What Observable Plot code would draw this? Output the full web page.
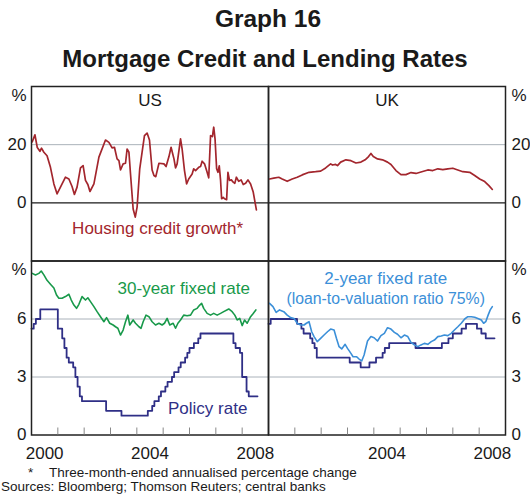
<!DOCTYPE html>
<html><head><meta charset="utf-8">
<script src="https://cdn.jsdelivr.net/npm/d3@7"></script>
<script src="https://cdn.jsdelivr.net/npm/@observablehq/plot@0.6"></script>
<style>
body{margin:0;background:#fff;}
#wrap{position:relative;width:530px;height:494px;overflow:hidden;font-family:"Liberation Sans",Arial,sans-serif;color:#1a1a1a;background:#fff;}
.t{position:absolute;left:0;width:530px;text-align:center;font-weight:bold;line-height:1;white-space:nowrap;}
.f{position:absolute;font-size:13.5px;line-height:1;white-space:nowrap;}
.p{position:absolute;left:0;}
</style></head><body>
<div id="wrap">
<div class="t" style="top:7.3px;font-size:24.5px;padding-left:3px;">Graph 16</div>
<div class="t" style="top:46.7px;font-size:24px;">Mortgage Credit and Lending Rates</div>
<div class="f" style="left:28px;top:465.5px;">*</div>
<div class="f" style="left:49px;top:465.5px;">Three-month-ended annualised percentage change</div>
<div class="f" style="left:1px;top:479.8px;">Sources: Bloomberg; Thomson Reuters; central banks</div>
</div>
<script>
// ---------- data ----------
const panelNames = ["US", "UK"];
const yearLabelsLeft = [2000, 2004, 2008];
const yearLabelsRight = [2004, 2008];
const yearTicks = [2001, 2002, 2003, 2004, 2005, 2006, 2007, 2008];
const creditTicks = [0, 20];
const rateTicks = [0, 3, 6];

// Housing credit growth, % (decimal year, value)
const usHousing = [
 [2000.03,21],[2000.13,23.4],[2000.22,19],[2000.32,17.7],[2000.38,18.8],[2000.47,17.4],[2000.59,16.2],
 [2000.72,12.2],[2000.85,6.5],[2000.97,3.1],[2001.10,5.4],[2001.29,8.8],[2001.42,8.2],[2001.54,5.6],
 [2001.63,2.9],[2001.73,5.4],[2001.86,12],[2001.96,12.8],[2002.05,7.7],[2002.14,6.3],[2002.22,3.9],
 [2002.37,6.5],[2002.56,15.7],[2002.81,21.6],[2002.94,20.8],[2003.06,18.9],[2003.15,19.1],[2003.25,15.1],
 [2003.32,14.5],[2003.38,11.3],[2003.48,13.4],[2003.57,13.6],[2003.63,18.5],[2003.70,17.4],[2003.76,9.9],
 [2003.86,-2.1],[2003.94,-4.9],[2004.01,-1.5],[2004.11,11.7],[2004.20,17.4],[2004.29,23.1],[2004.39,24],
 [2004.48,21.6],[2004.58,11.3],[2004.65,9.4],[2004.72,9],[2004.84,13.6],[2005.03,13.4],[2005.11,12.5],
 [2005.22,15.9],[2005.30,19.1],[2005.41,15.1],[2005.47,12],[2005.53,13.4],[2005.66,22],[2005.72,18.5],
 [2005.81,11.1],[2005.89,6.5],[2005.97,8.2],[2006.10,9.9],[2006.16,11.7],[2006.23,11.1],[2006.35,12.2],
 [2006.42,12.5],[2006.48,14.3],[2006.57,13.4],[2006.67,10.5],[2006.73,8.6],[2006.80,23.1],[2006.87,22.8],
 [2006.92,26],[2006.97,22],[2007.03,11.7],[2007.08,10.5],[2007.13,12.7],[2007.18,7.7],[2007.22,1.4],
 [2007.28,1.9],[2007.33,1.4],[2007.41,1.1],[2007.46,10.5],[2007.52,7.7],[2007.59,7.9],[2007.66,7.1],
 [2007.72,6.7],[2007.78,8.8],[2007.87,7.4],[2007.96,7.9],[2008.04,6.3],[2008.13,6.7],[2008.22,7.9],
 [2008.32,6.5],[2008.42,3.7],[2008.54,-2.4]
];
const ukHousing = [
 [2000.04,8.2],[2000.20,8.5],[2000.39,8.8],[2000.52,8.2],[2000.71,7.4],[2000.90,8.2],[2001.09,8.8],
 [2001.28,9.6],[2001.54,10.5],[2001.79,10.7],[2001.98,10.9],[2002.17,12],[2002.36,13.4],[2002.43,13],
 [2002.55,13.2],[2002.62,12.8],[2002.74,14],[2002.94,14.8],[2003.13,14.5],[2003.32,13.7],[2003.51,14],
 [2003.67,14.8],[2003.80,15.9],[2003.89,17],[2003.98,15.9],[2004.14,15.1],[2004.33,14.8],[2004.52,14],
 [2004.65,13.2],[2004.84,11.1],[2005.03,9.7],[2005.22,9.7],[2005.41,10.4],[2005.60,10.1],[2005.79,10.6],
 [2006.05,11.3],[2006.24,11.1],[2006.43,11.7],[2006.62,11.4],[2006.81,11.7],[2007.00,11.9],[2007.19,11.3],
 [2007.38,10.7],[2007.64,10.5],[2007.83,9.4],[2008.02,8.2],[2008.21,7.3],[2008.37,5.9],[2008.50,4.6]
];
// US 30-year fixed mortgage rate, %
const us30yr = [
 [2000.03,8.36],[2000.15,8.28],[2000.28,8.36],[2000.37,8.48],[2000.47,8.28],[2000.59,8.0],[2000.72,7.8],
 [2000.85,7.6],[2000.95,7.24],[2001.04,7.07],[2001.16,7.07],[2001.29,7.16],[2001.42,7.28],[2001.51,6.98],
 [2001.61,6.72],[2001.71,6.55],[2001.80,6.76],[2001.92,7.16],[2002.05,6.98],[2002.14,7.1],[2002.24,6.9],
 [2002.37,6.64],[2002.49,6.38],[2002.62,6.12],[2002.75,5.86],[2002.85,6.07],[2002.97,5.78],[2003.10,5.69],
 [2003.19,5.6],[2003.28,5.52],[2003.38,5.17],[2003.48,5.43],[2003.57,5.86],[2003.66,6.2],[2003.73,5.69],
 [2003.86,5.95],[2003.95,5.78],[2004.08,5.6],[2004.16,5.52],[2004.24,5.86],[2004.35,6.2],[2004.46,6.12],
 [2004.58,5.86],[2004.71,5.69],[2004.84,5.78],[2004.96,5.69],[2005.05,5.78],[2005.15,6.03],[2005.25,5.69],
 [2005.38,5.78],[2005.47,5.52],[2005.56,5.78],[2005.66,5.95],[2005.78,6.2],[2005.91,6.17],[2006.04,6.2],
 [2006.16,6.47],[2006.29,6.55],[2006.39,6.72],[2006.46,6.81],[2006.54,6.55],[2006.67,6.29],[2006.80,6.2],
 [2006.92,6.29],[2007.05,6.2],[2007.18,6.29],[2007.30,6.38],[2007.49,6.52],[2007.62,6.38],[2007.72,6.2],
 [2007.81,5.95],[2007.91,6.03],[2008.00,5.66],[2008.09,5.95],[2008.19,5.78],[2008.32,6.12],[2008.42,6.29],
 [2008.52,6.47]
];
// UK 2-year fixed rate (LVR 75%), %
const uk2yr = [
 [2000.04,6.81],[2000.17,6.64],[2000.29,6.34],[2000.42,6.47],[2000.58,6.38],[2000.71,6.2],[2000.84,6.07],
 [2000.97,6.03],[2001.09,5.78],[2001.22,5.69],[2001.35,5.69],[2001.44,5.78],[2001.54,5.86],[2001.64,5.34],
 [2001.73,5.09],[2001.85,4.83],[2001.98,5.0],[2002.11,5.17],[2002.24,5.34],[2002.36,5.48],[2002.49,5.43],
 [2002.58,5.0],[2002.68,4.57],[2002.78,4.45],[2002.91,4.69],[2003.00,4.48],[2003.13,4.22],[2003.21,4.05],
 [2003.34,4.05],[2003.44,3.93],[2003.54,3.83],[2003.63,4.14],[2003.76,4.86],[2003.89,5.09],[2004.01,5.03],
 [2004.14,4.86],[2004.27,5.14],[2004.40,5.26],[2004.52,5.55],[2004.65,5.48],[2004.78,5.31],[2004.90,5.21],
 [2005.03,5.03],[2005.16,5.17],[2005.29,5.09],[2005.41,4.79],[2005.54,4.66],[2005.67,4.57],[2005.79,4.66],
 [2005.92,4.74],[2006.05,4.69],[2006.18,4.83],[2006.30,4.91],[2006.43,5.09],[2006.56,5.12],[2006.68,5.17],
 [2006.81,5.14],[2006.94,5.26],[2007.06,5.43],[2007.19,5.6],[2007.32,5.78],[2007.45,6.0],[2007.57,6.12],
 [2007.70,6.12],[2007.83,6.09],[2007.95,6.03],[2008.08,5.95],[2008.17,5.78],[2008.25,5.86],[2008.34,6.2],
 [2008.42,6.47],[2008.50,6.64]
];
// Policy rates, monthly from January 2000, %
const usPolicy = [
 5.5,5.75,6.0,6.0,6.5,6.5,6.5,6.5,6.5,6.5,6.5,6.5,
 5.5,5.5,5.0,4.5,4.0,3.75,3.75,3.5,3.0,2.5,2.0,1.75,
 1.75,1.75,1.75,1.75,1.75,1.75,1.75,1.75,1.75,1.75,1.25,1.25,
 1.25,1.25,1.25,1.25,1.25,1.0,1.0,1.0,1.0,1.0,1.0,1.0,
 1.0,1.0,1.0,1.0,1.0,1.25,1.25,1.5,1.75,1.75,2.0,2.25,
 2.25,2.5,2.75,2.75,3.0,3.25,3.25,3.5,3.75,3.75,4.0,4.25,
 4.5,4.5,4.75,4.75,5.0,5.25,5.25,5.25,5.25,5.25,5.25,5.25,
 5.25,5.25,5.25,5.25,5.25,5.25,5.25,5.25,4.75,4.5,4.5,4.25,
 3.0,3.0,2.25,2.0,2.0,2.0,2.0,2.0
];
const ukPolicy = [
 5.75,6.0,6.0,6.0,6.0,6.0,6.0,6.0,6.0,6.0,6.0,6.0,
 6.0,5.75,5.75,5.5,5.25,5.25,5.25,5.0,4.75,4.5,4.0,4.0,
 4.0,4.0,4.0,4.0,4.0,4.0,4.0,4.0,4.0,4.0,4.0,4.0,
 4.0,3.75,3.75,3.75,3.75,3.75,3.5,3.5,3.5,3.5,3.75,3.75,
 3.75,4.0,4.0,4.0,4.25,4.5,4.5,4.75,4.75,4.75,4.75,4.75,
 4.75,4.75,4.75,4.75,4.75,4.75,4.75,4.5,4.5,4.5,4.5,4.5,
 4.5,4.5,4.5,4.5,4.5,4.5,4.5,4.75,4.75,4.75,5.0,5.0,
 5.25,5.25,5.25,5.25,5.5,5.5,5.75,5.75,5.75,5.75,5.75,5.5,
 5.5,5.25,5.25,5.0,5.0,5.0,5.0,5.0
];

// ---------- styles ----------
const RED = "#a3262d", GREEN = "#18994a", NAVY = "#2f2f86", BLUE = "#3b8fd8";
const GRID = "#aab2ba", FRAME = "#222";
const FONT = '"Liberation Sans", Arial, sans-serif';
const xDomain = [2000, 2009];
const style = {background: "transparent", overflow: "visible", fontFamily: FONT, fontSize: "17px", color: "#1a1a1a"};
const monthX = (d, i) => 2000 + i / 12;
const wrap = document.getElementById("wrap");

function place(svg, top) {
  svg.classList.add("p");
  svg.style.position = "absolute";
  svg.style.left = "0px";
  svg.style.top = top + "px";
  wrap.appendChild(svg);
}

const topRow = {width: 530, height: 185, marginTop: 6, marginBottom: 4.5, style,
  x: {domain: xDomain, axis: null}, y: {domain: [-20, 40]}};
const botRow = {width: 530, height: 210, marginTop: 5.5, marginBottom: 30.5, style,
  x: {domain: xDomain}, y: {domain: [0, 9]}};
const left = {marginLeft: 31, marginRight: 262};
const right = {marginLeft: 268, marginRight: 25};

function yAxes(anchor, ticks, top) {
  const pad = anchor === "left" ? 5 : 6;
  return [
    Plot.axisY({anchor, ticks, tickSize: 0, tickPadding: pad}),
    Plot.axisY({anchor, ticks: [top], tickSize: 0, tickPadding: pad, tickFormat: () => "%", dy: 9})
  ];
}
function xAxes(labels) {
  return [
    Plot.axisX({ticks: yearTicks, tickSize: -7, tickFormat: () => "", stroke: "#888"}),
    Plot.axisX({ticks: labels.map(y => y + 0.5), tickSize: 0, tickPadding: 12, tickFormat: d => String(Math.floor(d))})
  ];
}
const label = (txt, x, y, fill, fontSize = 17) =>
  Plot.text([txt], {x: () => x, y: () => y, text: d => d, fill, fontSize, textAnchor: "middle", lineAnchor: "middle"});
const title = (txt) => Plot.text([txt], {frameAnchor: "top", lineAnchor: "top", dy: 7, text: d => d, fontSize: 17, fill: "#1a1a1a"});

// Top-left: US credit
place(Plot.plot({...topRow, ...left, marks: [
  Plot.ruleY([20], {stroke: GRID}),
  Plot.ruleY([0], {stroke: "#1a1a1a", strokeWidth: 1.2}),
  Plot.line(usHousing, {x: d => d[0], y: d => d[1], stroke: RED, strokeWidth: 1.7}),
  Plot.frame({stroke: FRAME, strokeWidth: 1.5}),
  ...yAxes("left", creditTicks, 40),
  title(panelNames[0]),
  label("Housing credit growth*", 2004.79, -9, RED)
]}), 80);

// Top-right: UK credit
place(Plot.plot({...topRow, ...right, marks: [
  Plot.ruleY([20], {stroke: GRID}),
  Plot.ruleY([0], {stroke: "#1a1a1a", strokeWidth: 1.2}),
  Plot.line(ukHousing, {x: d => d[0], y: d => d[1], stroke: RED, strokeWidth: 1.7}),
  Plot.frame({stroke: FRAME, strokeWidth: 1.5}),
  ...yAxes("right", creditTicks, 40),
  title(panelNames[1])
]}), 80);

// Bottom-left: US rates
place(Plot.plot({...botRow, ...left, marks: [
  Plot.ruleY([3, 6], {stroke: GRID}),
  Plot.line(us30yr, {x: d => d[0], y: d => d[1], stroke: GREEN, strokeWidth: 1.6}),
  Plot.line(usPolicy, {x: monthX, y: d => d, curve: "step-after", stroke: NAVY, strokeWidth: 1.8}),
  Plot.frame({stroke: FRAME, strokeWidth: 1.5}),
  ...xAxes(yearLabelsLeft),
  ...yAxes("left", rateTicks, 9),
  label("30-year fixed rate", 2005.78, 7.6, GREEN),
  label("Policy rate", 2006.69, 1.39, NAVY)
]}), 255);

// Bottom-right: UK rates
place(Plot.plot({...botRow, ...right, marks: [
  Plot.ruleY([3, 6], {stroke: GRID}),
  Plot.line(ukPolicy, {x: monthX, y: d => d, curve: "step-after", stroke: NAVY, strokeWidth: 1.8}),
  Plot.line(uk2yr, {x: d => d[0], y: d => d[1], stroke: BLUE, strokeWidth: 1.6}),
  Plot.frame({stroke: FRAME, strokeWidth: 1.5}),
  ...xAxes(yearLabelsRight),
  ...yAxes("right", rateTicks, 9),
  label("2-year fixed rate", 2004.45, 8.07, BLUE),
  label("(loan-to-valuation ratio 75%)", 2004.45, 7.06, BLUE, 15.8)
]}), 255);
</script>
</body></html>
